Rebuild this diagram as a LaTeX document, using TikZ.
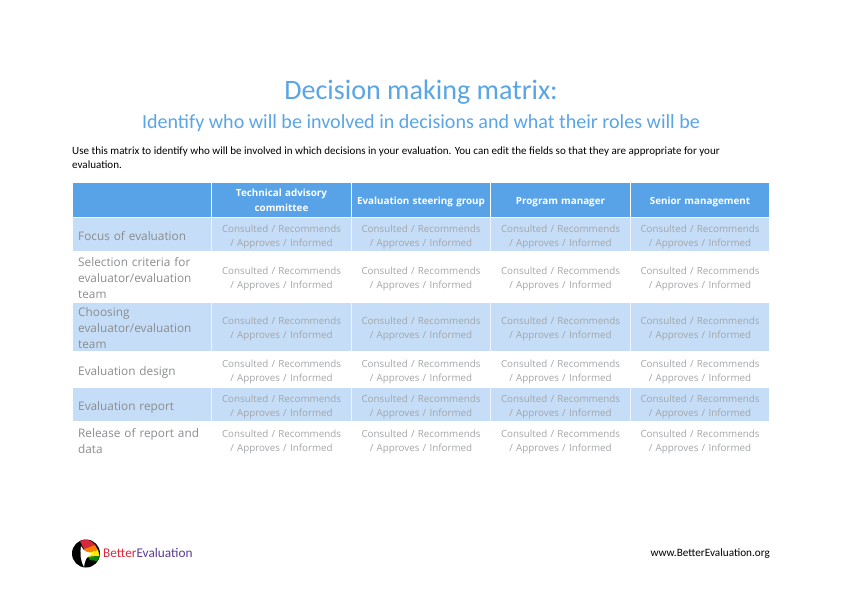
\documentclass[tikz,border=0pt]{standalone}
\usepackage{fontspec}
\usepackage{xcolor}
\setmainfont{Carlito}
\newfontfamily\cellfont{Open Sans}
\definecolor{matrixhead}{HTML}{58A3E8}
\definecolor{matrixband}{HTML}{C5DDF6}
\definecolor{matrixtitle}{HTML}{5AA5E6}
\definecolor{celltext}{HTML}{A3A6A9}
\definecolor{rowtext}{HTML}{8A8D90}
\definecolor{logored}{HTML}{D8283C}
\definecolor{logopurple}{HTML}{5B3A92}
\tikzset{
    headcell/.style={text=white, font=\cellfont\bfseries\fontsize{9.85}{14.5}\selectfont, align=center, text width=134pt, inner sep=0pt},
    rolecell/.style={text=celltext, font=\cellfont\fontsize{9.8}{14}\selectfont, align=center, text width=134pt, inner sep=0pt},
    rowcell/.style={text=rowtext, font=\cellfont\fontsize{11.8}{16}\selectfont, align=left, text width=128pt, inner sep=0pt, anchor=west}
}
\begin{document}
\begin{tikzpicture}[x=1pt, y=-1pt]
    \useasboundingbox (0,0) rectangle (842,596);
    \fill[white] (0,0) rectangle (842,596);

    % Titles
    \node[text=matrixtitle, font=\fontsize{28.1}{32}\selectfont, inner sep=0pt] (maintitle) at (421,92) {Decision making matrix:};
    \node[text=matrixtitle, font=\fontsize{20.05}{24}\selectfont, inner sep=0pt] (subtitle) at (421,123.5) {Identify who will be involved in decisions and what their roles will be};
    \node[anchor=west, font=\fontsize{11.05}{14}\selectfont, align=left, inner sep=0pt] (intro) at (72,158) {Use this matrix to identify who will be involved in which decisions in your evaluation. You can edit the fields so that they are appropriate for your\\evaluation.};

    % Header band and shaded rows
    \fill[matrixhead] (73,183) rectangle (769,217);
    \fill[matrixband] (73,218) rectangle (769,251);
    \fill[matrixband] (73,303) rectangle (769,351);
    \fill[matrixband] (73,388) rectangle (769,421);

    % Column separators
    \foreach \x in {211.5,351,490.5,630} {
        \draw[white, line width=0.9pt] (\x,183) -- (\x,217);
        \draw[white!70!matrixband, line width=0.3pt] (\x,218) -- (\x,251);
        \draw[white!70!matrixband, line width=0.3pt] (\x,303) -- (\x,351);
        \draw[white!70!matrixband, line width=0.3pt] (\x,388) -- (\x,421);
    }

    % Column heads
    \node[headcell] (headA) at (281.5,200.5) {Technical advisory\\committee};
    \node[headcell] (headB) at (421,202) {Evaluation steering group};
    \node[headcell] (headC) at (560.5,202) {Program manager};
    \node[headcell] (headD) at (700,202) {Senior management};

    % Row labels
    \node[rowcell] (rowA) at (78,236.5) {Focus of evaluation};
    \node[rowcell] (rowB) at (78,278) {Selection criteria for\\evaluator/evaluation\\team};
    \node[rowcell] (rowC) at (78,328.5) {Choosing\\evaluator/evaluation\\team};
    \node[rowcell] (rowD) at (78,372) {Evaluation design};
    \node[rowcell] (rowE) at (78,407) {Evaluation report};
    \node[rowcell] (rowF) at (78,441) {Release of report and\\data};

    % Role cells
    \foreach \x/\c in {281.5/A, 421/B, 560.5/C, 700/D} {
        \foreach \y/\r in {237/A, 279/B, 329/C, 372/D, 407/E, 442/F} {
            \node[rolecell] (cell\r\c) at (\x,\y) {Consulted / Recommends\\/ Approves / Informed};
        }
    }

    % Logo
    \fill[black] (86,553.5) circle (14);
    \fill[logored] (80,541) .. controls (85,538) and (92,540) .. (95,545) -- (84,549) -- cycle;
    \fill[orange] (84,549) -- (95,545) -- (98,550) -- (86,553) -- cycle;
    \fill[yellow!90!orange] (86,553) -- (98,550) -- (99.5,556) -- (88,557) -- cycle;
    \fill[green!55!black] (88,557) -- (99.5,556) -- (97,561) -- (90,560) -- cycle;
    \fill[white] (81,546) .. controls (80,552) and (80,560) .. (84,567) .. controls (85,560) and (86,556) .. (94,553) .. controls (88,553) and (84,552) .. (81,546) -- cycle;
    \node[anchor=west, inner sep=0pt, font=\fontsize{13.3}{16}\selectfont] (logotext) at (103,552.5) {\textcolor{logored}{Better}\textcolor{logopurple}{Evaluation}};

    % Footer
    \node[anchor=east, inner sep=0pt, font=\fontsize{11.2}{14}\selectfont] (website) at (770,554) {www.BetterEvaluation.org};
\end{tikzpicture}
\end{document}
